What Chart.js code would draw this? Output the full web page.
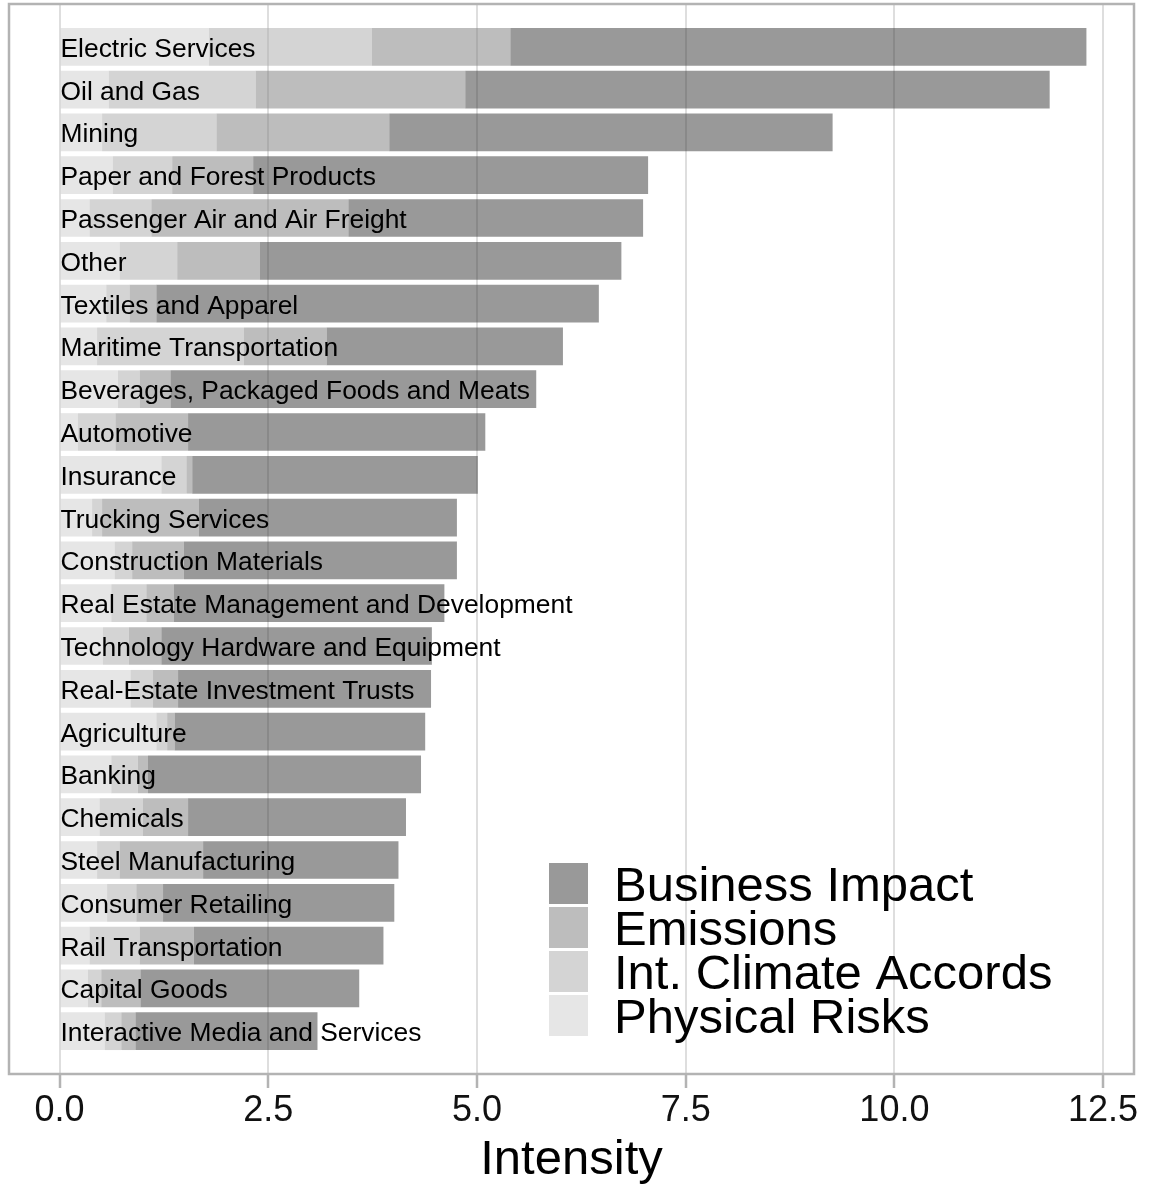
<!DOCTYPE html>
<html>
<head>
<meta charset="utf-8">
<script src="https://cdn.jsdelivr.net/npm/chart.js@4.4.1/dist/chart.umd.min.js"></script>
<style>
  html, body { margin: 0; padding: 0; background: #fff; }
  #wrap { width: 1151px; height: 1186px; position: relative; }
</style>
</head>
<body>
<div id="wrap"><canvas id="grafico"></canvas></div>
<script>
const categories = [
    'Electric Services', 'Oil and Gas', 'Mining', 'Paper and Forest Products',
    'Passenger Air and Air Freight', 'Other', 'Textiles and Apparel', 'Maritime Transportation',
    'Beverages, Packaged Foods and Meats', 'Automotive', 'Insurance', 'Trucking Services',
    'Construction Materials', 'Real Estate Management and Development', 'Technology Hardware and Equipment',
    'Real-Estate Investment Trusts', 'Agriculture', 'Banking', 'Chemicals', 'Steel Manufacturing',
    'Consumer Retailing', 'Rail Transportation', 'Capital Goods', 'Interactive Media and Services'
];
const physicalRisks = [1.79, 0.59, 0.51, 0.64, 0.36, 0.72, 0.56, 0.45, 0.70, 0.22, 1.22, 0.39, 0.66, 0.62, 0.52, 0.85, 1.16, 0.62, 0.48, 0.45, 0.57, 0.36, 0.34, 0.54];
const climateAccords = [1.95, 1.76, 1.37, 0.71, 0.74, 0.69, 0.28, 1.76, 0.26, 0.45, 0.30, 0.12, 0.21, 0.42, 0.31, 0.27, 0.13, 0.32, 0.52, 0.27, 0.35, 0.60, 0.16, 0.20];
const emissions = [1.66, 2.51, 2.07, 0.97, 2.36, 0.99, 0.32, 0.99, 0.37, 0.87, 0.07, 1.16, 0.62, 0.33, 0.39, 0.30, 0.09, 0.12, 0.54, 1.00, 0.32, 0.65, 0.47, 0.17];
const businessImpact = [6.90, 7.00, 5.31, 4.73, 3.53, 4.33, 5.30, 2.83, 4.38, 3.56, 3.42, 3.09, 3.27, 3.24, 3.24, 3.03, 3.00, 3.27, 2.61, 2.34, 2.77, 2.27, 2.62, 2.18];
const seriesNames = ['Physical Risks', 'Int. Climate Accords', 'Emissions', 'Business Impact'];
const xTickValues = [0, 2.5, 5, 7.5, 10, 12.5];
const xTickLabels = ['0.0', '2.5', '5.0', '7.5', '10.0', '12.5'];

Chart.defaults.font.family = "'Liberation Sans', Arial, sans-serif";

document.addEventListener("DOMContentLoaded", function () {
    const ctx = document.getElementById('grafico').getContext('2d');
    const fills = ['rgba(205,205,205,0.5)', 'rgba(169,169,169,0.5)', 'rgba(123,123,123,0.5)', 'rgba(51,51,51,0.5)'];
    const series = [physicalRisks, climateAccords, emissions, businessImpact];

    // bars are placed on a numeric y axis (one unit per category)
    const datasets = series.map((vals, k) => ({
        label: seriesNames[k],
        data: vals.map((v, i) => ({ x: v, y: i })),
        backgroundColor: fills[k],
        borderWidth: 0,
        barPercentage: 0.88,
        categoryPercentage: 1,
    }));

    // frame, category labels and legend
    const extras = {
        id: 'extras',
        afterDatasetsDraw(chart) {
            const c = chart.ctx, xs = chart.scales.x, ys = chart.scales.y;
            c.save();
            c.fillStyle = '#000';
            c.font = "26.4px 'Liberation Sans', Arial, sans-serif";
            c.textAlign = 'left';
            c.textBaseline = 'alphabetic';
            const x0 = xs.getPixelForValue(0) + 1;
            categories.forEach((name, i) => {
                c.fillText(name, x0, ys.getPixelForValue(i) + 10);
            });

            // legend, reversed stack order
            c.font = "49px 'Liberation Sans', Arial, sans-serif";
            const order = chart.data.datasets.slice().reverse();
            order.forEach((ds, k) => {
                const top = 863 + k * 44;
                c.fillStyle = '#fff';
                c.fillRect(549, top, 39, 41);
                c.fillStyle = ds.backgroundColor;
                c.fillRect(549, top, 39, 41);
                c.fillStyle = '#000';
                c.fillText(ds.label, 614, top + 38);
            });
            c.restore();
        },
        afterDraw(chart) {
            const a = chart.chartArea, c = chart.ctx;
            c.save();
            c.strokeStyle = '#b3b3b3';
            c.lineWidth = 2.5;
            c.strokeRect(a.left, a.top, a.right - a.left, a.bottom - a.top);
            c.restore();
        }
    };

    new Chart(ctx, {
        type: 'bar',
        data: { datasets: datasets },
        options: {
            indexAxis: 'y',
            responsive: true,
            maintainAspectRatio: false,
            animation: false,
            layout: { padding: { left: 9, right: 17, top: 4, bottom: 0 } },
            scales: {
                x: {
                    type: 'linear',
                    stacked: true,
                    min: -0.605,
                    max: 12.87,
                    afterBuildTicks: s => { s.ticks = xTickValues.map(v => ({ value: v })); },
                    afterFit: s => { s.height = 112; },
                    border: { display: false },
                    grid: {
                        color: '#dedede',
                        lineWidth: 2,
                        drawTicks: true,
                        tickLength: 14,
                        tickColor: '#b3b3b3',
                        tickWidth: 2.5,
                    },
                    ticks: {
                        padding: 5,
                        color: '#111',
                        font: { size: 36, lineHeight: 1 },
                        callback: (value, index) => xTickLabels[index],
                    },
                    title: {
                        display: true,
                        text: 'Intensity',
                        color: '#000',
                        font: { size: 49, lineHeight: 1 },
                        padding: { top: 0, bottom: 1 },
                    },
                },
                y: {
                    type: 'linear',
                    stacked: true,
                    reverse: true,
                    offset: false,
                    min: -1,
                    max: 24,
                    display: false,
                    ticks: { stepSize: 1 },
                },
            },
            plugins: {
                legend: { display: false },
                tooltip: { enabled: false },
            },
        },
        plugins: [extras],
    });
});
</script>
</body>
</html>
